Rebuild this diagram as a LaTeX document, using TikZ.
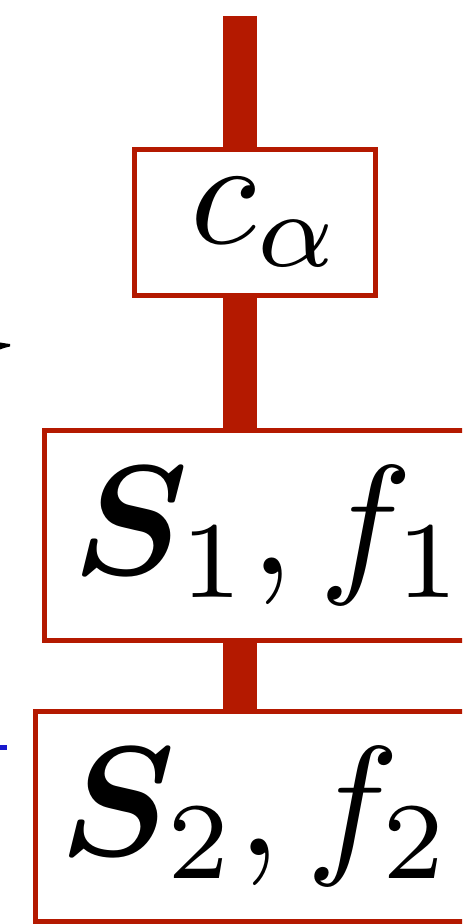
\documentclass[tikz,border=0pt]{standalone}
\usepackage{bm}
\usepackage{graphicx}
\usetikzlibrary{backgrounds}
\definecolor{boxred}{RGB}{180,25,0}
\definecolor{markblue}{RGB}{25,25,205}
\tikzset{
  box/.style={draw=boxred, line width=2.5pt, fill=white, rectangle, inner sep=0pt, text=black},
  bar/.style={draw=boxred, line width=17pt, line cap=butt}
}
\newcommand{\boxtext}[4]{\raisebox{#2}{\hspace*{#1}\scalebox{#3}{$#4$}}}
\begin{document}
\begin{tikzpicture}[x=0.5pt, y=-0.5pt]
\useasboundingbox (0,0) rectangle (462,924);
\clip (0,0) rectangle (462,924);
\node[box, minimum width=120.5pt, minimum height=73pt] (c) at (255,222.5) {\boxtext{12pt}{-1pt}{7.6}{c_\alpha}};
\node[box, minimum width=220.5pt, minimum height=105.25pt] (s1) at (264.5,535.25) {\boxtext{5pt}{-3.5pt}{7.8}{\bm{S}_1, f_1}};
\node[box, minimum width=218pt, minimum height=105pt] (s2) at (253,816.5) {\boxtext{3pt}{-4.5pt}{7.8}{\bm{S}_2, f_2}};
\coordinate (top) at (240,16);
\begin{pgfonlayer}{background}
\draw[bar] (top) -- (top |- s2.north);
\end{pgfonlayer}
\fill[black] (0,342.5) -- (6,343.5) -- (10,344) -- (10,346.5) -- (4,348) -- (0,349.5) -- cycle;
\fill[markblue] (0,745) rectangle (7,750);
\end{tikzpicture}
\end{document}
